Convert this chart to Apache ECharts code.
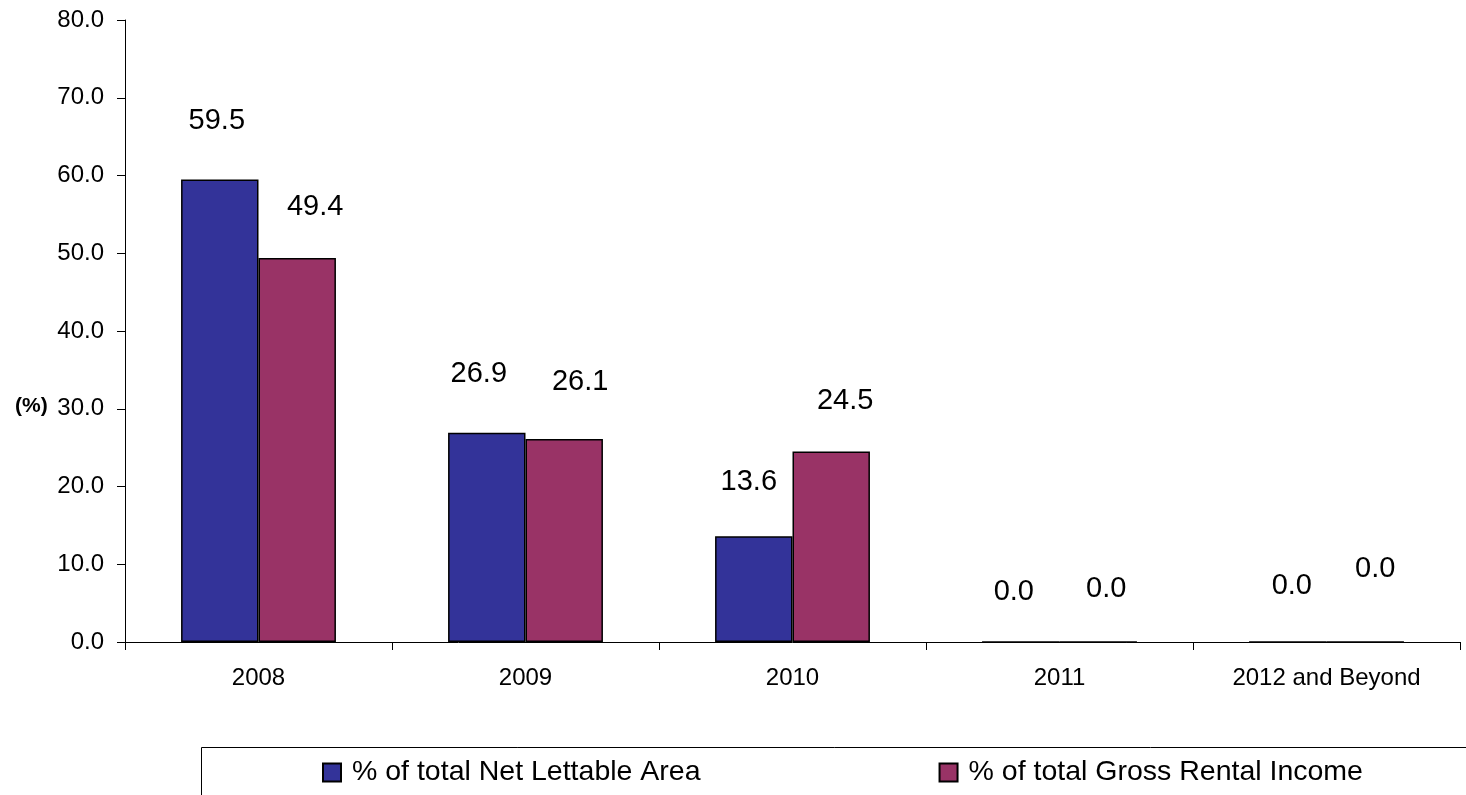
<!DOCTYPE html>
<html>
<head>
<meta charset="utf-8">
<script src="https://cdn.jsdelivr.net/npm/echarts@6/dist/echarts.min.js"></script>
<style>
html,body{margin:0;padding:0;background:#fff;}
#chart{width:1466px;height:795px;}
</style>
</head>
<body>
<div id="chart"></div>
<script>
var categories = ['2008', '2009', '2010', '2011', '2012 and Beyond'];
var netLettableArea = [59.5, 26.9, 13.6, 0.0, 0.0];
var grossRentalIncome = [49.4, 26.1, 24.5, 0.0, 0.0];
var seriesNames = ['% of total Net Lettable Area', '% of total Gross Rental Income'];
var yMin = 0, yMax = 80, yStep = 10;

// label nudges (styling only): [dx, dy] relative to default top position
var nlaLabelNudge = [[-3, -44], [-8, -44], [-5, -40], [-7, -35], [4, -41]];
var griLabelNudge = [[18, -36], [16, -43], [14, -36], [8, -38], [10, -58]];

var FONT = '"Liberation Sans", Arial, sans-serif';

function buildData(values, nudges) {
  return values.map(function (v, i) {
    return { value: v, label: { offset: nudges[i] } };
  });
}

var chart = echarts.init(document.getElementById('chart'), null, { renderer: 'canvas' });
var labelCfg = {
  show: true,
  position: 'top',
  distance: 0,
  fontFamily: FONT,
  fontSize: 29,
  color: '#000',
  formatter: function (p) { return p.value.toFixed(1); }
};
chart.setOption({
  animation: false,
  backgroundColor: '#fff',
  textStyle: { fontFamily: FONT },
  grid: { left: 125, right: 6, top: 20, bottom: 153, containLabel: false },
  xAxis: {
    type: 'category',
    data: categories,
    boundaryGap: true,
    axisLine: { show: true, lineStyle: { color: '#000', width: 1 } },
    axisTick: { show: true, alignWithLabel: false, length: 8, lineStyle: { color: '#000' } },
    axisLabel: { fontFamily: FONT, fontSize: 24, color: '#000', margin: 24 },
    splitLine: { show: false }
  },
  yAxis: {
    type: 'value',
    min: yMin, max: yMax, interval: yStep,
    axisLine: { show: true, lineStyle: { color: '#000', width: 1 } },
    axisTick: { show: true, length: 8, lineStyle: { color: '#000' } },
    axisLabel: { fontFamily: FONT, fontSize: 24, color: '#000', margin: 21,
      formatter: function (v) { return v.toFixed(1); } },
    splitLine: { show: false }
  },
  legend: {
    left: 322, top: 758, padding: 0,
    itemWidth: 18, itemHeight: 18, itemGap: 238,
    icon: 'rect',
    textStyle: { fontFamily: FONT, fontSize: 28.5, color: '#000', padding: [0, 0, 0, 6] },
    data: seriesNames
  },
  graphic: [
    { type: 'rect', left: 199, top: 745, shape: { width: 1400, height: 120 },
      style: { fill: 'none', stroke: '#000', lineWidth: 1 }, silent: true, z: -1 },
    { type: 'text', x: 15, y: 406,
      style: { text: '(%)', font: 'bold 21px ' + FONT, fill: '#000', textVerticalAlign: 'middle' } }
  ],
  series: [
    {
      name: seriesNames[0], type: 'bar',
      barGap: '0%', barCategoryGap: '42%',
      itemStyle: { color: '#333399', borderColor: '#000', borderWidth: 1.5 },
      label: labelCfg,
      data: buildData(netLettableArea, nlaLabelNudge)
    },
    {
      name: seriesNames[1], type: 'bar',
      barGap: '0%', barCategoryGap: '42%',
      itemStyle: { color: '#993366', borderColor: '#000', borderWidth: 1.5 },
      label: labelCfg,
      data: buildData(grossRentalIncome, griLabelNudge)
    }
  ]
});
</script>
</body>
</html>
